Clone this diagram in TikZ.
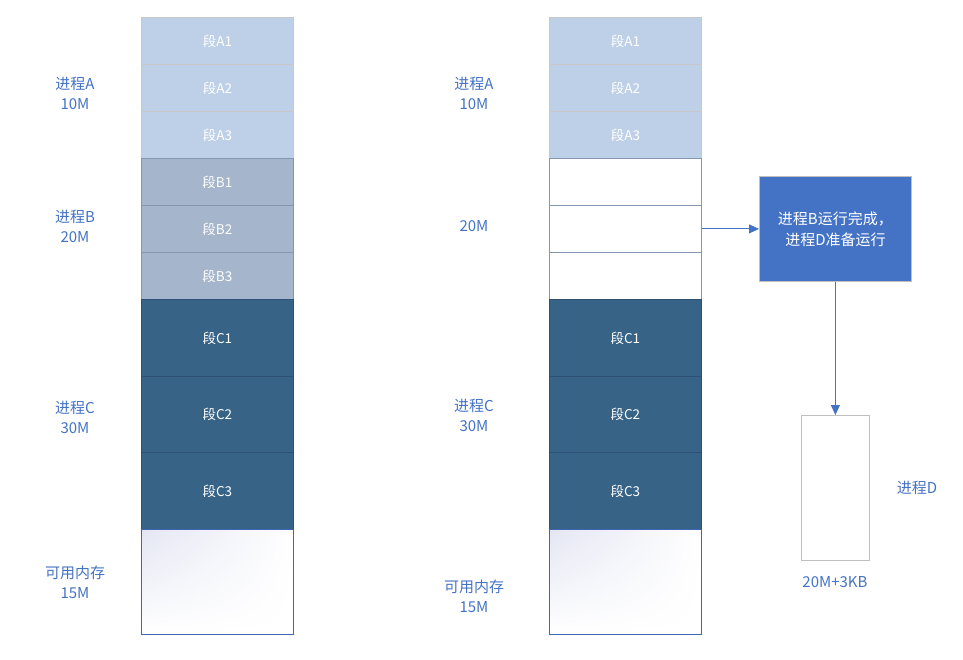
\documentclass[tikz,border=0pt]{standalone}
\usepackage{fontspec}
\setmainfont{Noto Sans CJK SC}
\usetikzlibrary{positioning,arrows.meta,shadings}
\definecolor{segAfill}{HTML}{BDD0E8}
\definecolor{segAline}{HTML}{C8C8C8}
\definecolor{segBfill}{HTML}{A5B5CB}
\definecolor{segBline}{HTML}{8497B0}
\definecolor{segCfill}{HTML}{376387}
\definecolor{segCline}{HTML}{2C5173}
\definecolor{freeline}{HTML}{3F66B5}
\definecolor{freetop}{HTML}{E4E6F3}
\definecolor{labelblue}{HTML}{4472C4}
\definecolor{boxline}{HTML}{BFBFBF}
\begin{document}
\begin{tikzpicture}[x=1pt,y=-1pt,
    seg/.style={inner sep=0pt, minimum width=152pt, anchor=north west, line width=0.8pt,
        text=white, font=\fontsize{13.5}{16}\selectfont},
    segA/.style={seg, fill=segAfill, draw=segAline, minimum height=47pt},
    segB/.style={seg, fill=segBfill, draw=segBline, minimum height=47pt},
    segE/.style={seg, fill=white, draw=segBline, minimum height=47pt},
    segC/.style={seg, fill=segCfill, draw=segCline, minimum height=#1},
    freemem/.style={seg, draw=freeline, minimum height=105pt, upper left=freetop,
        upper right=white, lower left=white, lower right=white},
    plabel/.style={align=center, text=labelblue, font=\fontsize{15}{20}\selectfont},
    arr/.style={draw=labelblue, line width=0.9pt, -{Triangle[length=10pt,width=9pt]}}]
    \useasboundingbox (0,0) rectangle (963,659);
    % left column
    \foreach \i in {1,2,3}
        \node[segA] (lA\i) at (141,{17+47*(\i-1)}) {段A\i};
    \foreach \i in {1,2,3}
        \node[segB] (lB\i) at (141,{158+47*(\i-1)}) {段B\i};
    \node[segC=77pt] (lC1) at (141,299) {段C1};
    \node[segC=76pt] (lC2) at (141,376) {段C2};
    \node[segC=77pt] (lC3) at (141,452) {段C3};
    \node[freemem] (lfree) at (141,529) {};
    \node[plabel] (lpA) at (75,93) {进程A\\10M};
    \node[plabel] (lpB) at (75,226) {进程B\\20M};
    \node[plabel] (lpC) at (75,417) {进程C\\30M};
    \node[plabel] (lpF) at (75,582) {可用内存\\15M};
    % right column
    \foreach \i in {1,2,3}
        \node[segA] (rA\i) at (549,{17+47*(\i-1)}) {段A\i};
    \foreach \i in {1,2,3}
        \node[segE] (rE\i) at (549,{158+47*(\i-1)}) {};
    \node[segC=77pt] (rC1) at (549,299) {段C1};
    \node[segC=76pt] (rC2) at (549,376) {段C2};
    \node[segC=77pt] (rC3) at (549,452) {段C3};
    \node[freemem] (rfree) at (549,529) {};
    \node[plabel] (rpA) at (474,93) {进程A\\10M};
    \node[plabel] (rpB) at (474,226) {20M};
    \node[plabel] (rpC) at (474,415) {进程C\\30M};
    \node[plabel] (rpF) at (474,596) {可用内存\\15M};
    % process D
    \node[fill=labelblue, draw=boxline, line width=0.8pt, inner sep=0pt, anchor=north west,
        minimum width=152pt, minimum height=105pt, align=center, text=white,
        font=\fontsize{15}{21}\selectfont] (done) at (759,176) {进程B运行完成，\\进程D准备运行};
    \node[draw=boxline, line width=0.8pt, inner sep=0pt, anchor=north west,
        minimum width=68pt, minimum height=145pt] (pD) at (801,415) {};
    \node[plabel] (pDname) at (917,488) {进程D};
    \node[plabel] (pDsize) at (835,582) {20M+3KB};
    \draw[arr] (rE2.east) -- (done.west);
    \draw[arr] (done.south) -- (pD.north);
\end{tikzpicture}
\end{document}
